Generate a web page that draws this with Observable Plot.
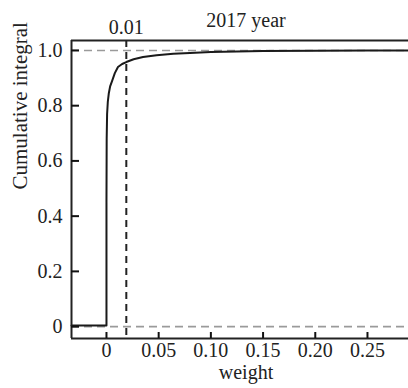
<!DOCTYPE html>
<html>
<head>
<meta charset="utf-8">
<script src="https://cdn.jsdelivr.net/npm/d3@7"></script>
<script src="https://cdn.jsdelivr.net/npm/@observablehq/plot@0.6"></script>
<style>
  html, body { margin: 0; padding: 0; background: #fff; }
  svg text { font-family: 'Liberation Serif', serif; font-variant-numeric: normal; }
</style>
</head>
<body>
<div id="chart"></div>
<script>
const title = "2017 year";
const xLabel = "weight";
const yLabel = "Cumulative integral";
const thresholdValue = 0.019;
const thresholdLabel = "0.01";
const xDomain = [-0.0335, 0.2893];
const yDomain = [-0.043, 1.036];
const xTicks = [0, 0.05, 0.10, 0.15, 0.20, 0.25];
const xTickLabels = ["0", "0.05", "0.10", "0.15", "0.20", "0.25"];
const yTicks = [0, 0.2, 0.4, 0.6, 0.8, 1.0];
const yTickLabels = ["0", "0.2", "0.4", "0.6", "0.8", "1.0"];
const refLines = [0, 1];
// cumulative curve
const weights = [-0.0335, 0, 0, 0.0002, 0.0006, 0.0013, 0.0022, 0.0035, 0.0055, 0.008, 0.011, 0.015, 0.019, 0.026, 0.035, 0.048, 0.064, 0.08, 0.1, 0.125, 0.15, 0.2, 0.25, 0.2893];
const cumulative = [0.004, 0.004, 0.45, 0.68, 0.77, 0.815, 0.844, 0.87, 0.891, 0.918, 0.94, 0.951, 0.958, 0.968, 0.976, 0.983, 0.988, 0.991, 0.994, 0.996, 0.998, 0.999, 0.9995, 1.0];

const curve = weights.map((w, i) => ({w, c: cumulative[i]}));
const FF = "'Liberation Serif', serif";
const W = 408, H = 388, ML = 71, MR = 0, MT = 40, MB = 50;
// tick lengths in pixels, converted to data units via the scale extents
const yPerPx = (yDomain[1] - yDomain[0]) / (H - MT - MB);
const xPerPx = (xDomain[1] - xDomain[0]) / (W - ML - MR);

const chart = Plot.plot({
  width: W,
  height: H,
  marginLeft: ML,
  marginRight: MR,
  marginTop: MT,
  marginBottom: MB,
  style: {fontFamily: FF, fontSize: "20px", color: "#222", background: "#fff"},
  x: {domain: xDomain},
  y: {domain: yDomain},
  marks: [
    Plot.ruleY(refLines, {stroke: "#9a9a9a", strokeWidth: 1.6, strokeDasharray: "8,5"}),
    Plot.ruleX([thresholdValue], {stroke: "#222", strokeWidth: 2, strokeDasharray: "7,5"}),
    Plot.line(curve, {x: "w", y: "c", stroke: "#1a1a1a", strokeWidth: 2}),
    Plot.ruleX([xDomain[0]], {stroke: "#222", strokeWidth: 2}),
    Plot.ruleY([yDomain[0], yDomain[1]], {stroke: "#222", strokeWidth: 2}),
    Plot.ruleX(xTicks, {x: d => d, y1: yDomain[0], y2: yDomain[0] + 6 * yPerPx, stroke: "#111", strokeWidth: 2}),
    Plot.ruleY(yTicks, {y: d => d, x1: xDomain[0], x2: xDomain[0] + 8 * xPerPx, stroke: "#111", strokeWidth: 2}),
    Plot.axisX({ticks: xTicks, tickSize: 0, tickPadding: 4, fontSize: 20, fontFamily: FF, tickFormat: (d, i) => xTickLabels[i], label: null}),
    Plot.axisY({ticks: yTicks, tickSize: 0, tickPadding: 9, fontSize: 20, fontFamily: FF, tickFormat: (d, i) => yTickLabels[i], label: null}),
    Plot.text([xLabel], {frameAnchor: "bottom", dx: 6, dy: 40, fontSize: 20, fontFamily: FF, text: d => d}),
    Plot.text([yLabel], {frameAnchor: "left", dx: -51, rotate: -90, fontSize: 21, fontFamily: FF, text: d => d}),
    Plot.text([title], {frameAnchor: "top", dx: 6, dy: -14, lineAnchor: "bottom", fontSize: 20, fontFamily: FF, text: d => d}),
    Plot.text([thresholdValue], {x: d => d, frameAnchor: "top", dy: -7, lineAnchor: "bottom", fontSize: 20, fontFamily: FF, text: () => thresholdLabel})
  ]
});
document.getElementById("chart").appendChild(chart);
</script>
</body>
</html>
